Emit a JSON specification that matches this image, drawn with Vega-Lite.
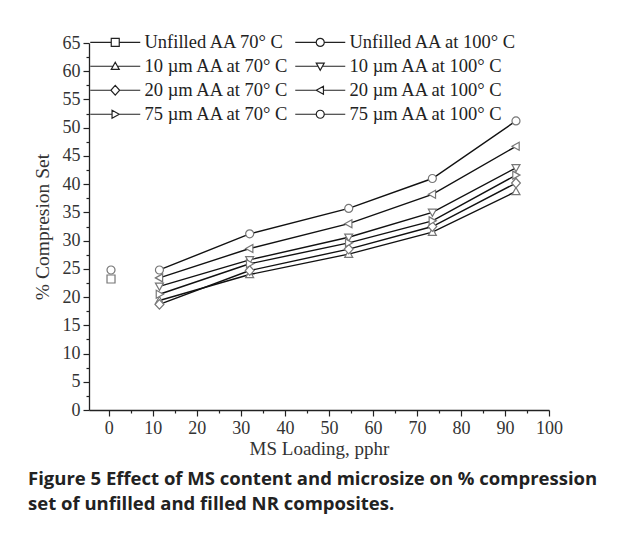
{
  "$schema": "https://vega.github.io/schema/vega-lite/v6.json",
  "width": 460,
  "height": 367,
  "autosize": "none",
  "padding": {"left": 89, "top": 43, "right": 80, "bottom": 146},
  "background": "white",
  "config": {
    "view": {"stroke": null},
    "font": "Liberation Serif"
  },
  "data": {
    "values": [
      {"x": 0.5, "y": 23.2, "s": "Unfilled AA 70° C"},
      {"x": 0.5, "y": 24.8, "s": "Unfilled AA at 100° C"},
      {"x": 11.5, "y": 19.4, "s": "10 µm AA at 70° C"},
      {"x": 32, "y": 24.0, "s": "10 µm AA at 70° C"},
      {"x": 54.5, "y": 27.6, "s": "10 µm AA at 70° C"},
      {"x": 73.5, "y": 31.5, "s": "10 µm AA at 70° C"},
      {"x": 92.5, "y": 38.7, "s": "10 µm AA at 70° C"},
      {"x": 11.5, "y": 21.9, "s": "10 µm AA at 100° C"},
      {"x": 32, "y": 26.6, "s": "10 µm AA at 100° C"},
      {"x": 54.5, "y": 30.6, "s": "10 µm AA at 100° C"},
      {"x": 73.5, "y": 35.0, "s": "10 µm AA at 100° C"},
      {"x": 92.5, "y": 42.9, "s": "10 µm AA at 100° C"},
      {"x": 11.5, "y": 18.7, "s": "20 µm AA at 70° C"},
      {"x": 32, "y": 24.7, "s": "20 µm AA at 70° C"},
      {"x": 54.5, "y": 28.5, "s": "20 µm AA at 70° C"},
      {"x": 73.5, "y": 32.5, "s": "20 µm AA at 70° C"},
      {"x": 92.5, "y": 40.2, "s": "20 µm AA at 70° C"},
      {"x": 11.5, "y": 23.4, "s": "20 µm AA at 100° C"},
      {"x": 32, "y": 28.6, "s": "20 µm AA at 100° C"},
      {"x": 54.5, "y": 33.0, "s": "20 µm AA at 100° C"},
      {"x": 73.5, "y": 38.2, "s": "20 µm AA at 100° C"},
      {"x": 92.5, "y": 46.7, "s": "20 µm AA at 100° C"},
      {"x": 11.5, "y": 20.5, "s": "75 µm AA at 70° C"},
      {"x": 32, "y": 25.9, "s": "75 µm AA at 70° C"},
      {"x": 54.5, "y": 29.6, "s": "75 µm AA at 70° C"},
      {"x": 73.5, "y": 33.5, "s": "75 µm AA at 70° C"},
      {"x": 92.5, "y": 41.6, "s": "75 µm AA at 70° C"},
      {"x": 11.5, "y": 24.8, "s": "75 µm AA at 100° C"},
      {"x": 32, "y": 31.2, "s": "75 µm AA at 100° C"},
      {"x": 54.5, "y": 35.7, "s": "75 µm AA at 100° C"},
      {"x": 73.5, "y": 41.0, "s": "75 µm AA at 100° C"},
      {"x": 92.5, "y": 51.2, "s": "75 µm AA at 100° C"}
    ]
  },
  "encoding": {
    "x": {
      "field": "x",
      "type": "quantitative",
      "scale": {"domain": [-4.5, 100], "nice": false, "zero": false},
      "axis": {
        "title": "MS Loading, pphr",
        "values": [0, 5, 10, 15, 20, 25, 30, 35, 40, 45, 50, 55, 60, 65, 70, 75, 80, 85, 90, 95, 100],
        "labelExpr": "datum.value % 10 === 0 ? datum.label : ''",
        "tickSize": {"condition": {"test": "datum.value % 10 === 0", "value": 6}, "value": 3},
        "labelFlush": false,
        "labelOverlap": false,
        "grid": false,
        "domainColor": "#222",
        "domainWidth": 1.3,
        "tickColor": "#222",
        "tickWidth": 1.2,
        "labelFont": "Liberation Serif",
        "labelFontSize": 18,
        "labelColor": "#333",
        "labelPadding": 3,
        "titleFont": "Liberation Serif",
        "titleFontSize": 19,
        "titleFontWeight": "normal",
        "titleColor": "#333",
        "titlePadding": 2
      }
    },
    "y": {
      "field": "y",
      "type": "quantitative",
      "scale": {"domain": [0, 65], "nice": false},
      "axis": {
        "title": "% Compresion Set",
        "values": [0, 2.5, 5, 7.5, 10, 12.5, 15, 17.5, 20, 22.5, 25, 27.5, 30, 32.5, 35, 37.5, 40, 42.5, 45, 47.5, 50, 52.5, 55, 57.5, 60, 62.5, 65],
        "labelExpr": "datum.value % 5 === 0 ? datum.label : ''",
        "tickSize": {"condition": {"test": "datum.value % 5 === 0", "value": 6}, "value": 3},
        "labelFlush": false,
        "labelOverlap": false,
        "grid": false,
        "domainColor": "#222",
        "domainWidth": 1.3,
        "tickColor": "#222",
        "tickWidth": 1.2,
        "labelFont": "Liberation Serif",
        "labelFontSize": 18,
        "labelColor": "#333",
        "labelPadding": 3,
        "titleFont": "Liberation Serif",
        "titleFontSize": 19.5,
        "titleFontWeight": "normal",
        "titleColor": "#333",
        "titlePadding": 10
      }
    }
  },
  "layer": [
    {
      "mark": {"type": "line", "color": "#111", "strokeWidth": 1.4},
      "encoding": {"detail": {"field": "s", "type": "nominal"}}
    },
    {
      "mark": {"type": "point", "filled": true, "fill": "white", "stroke": "#777", "strokeWidth": 1.2, "size": 64, "opacity": 1},
      "encoding": {
        "shape": {
          "field": "s",
          "type": "nominal",
          "scale": {
            "domain": ["Unfilled AA 70° C", "10 µm AA at 70° C", "20 µm AA at 70° C", "75 µm AA at 70° C", "Unfilled AA at 100° C", "10 µm AA at 100° C", "20 µm AA at 100° C", "75 µm AA at 100° C"],
            "range": [
              "M-1,-1H1V1H-1Z",
              "M0,-1L1,0.8L-1,0.8Z",
              "M0,-1.2L1.1,0L0,1.2L-1.1,0Z",
              "M1,0L-0.8,-1L-0.8,1Z",
              "M1,0A1,1,0,1,1,-1,0A1,1,0,1,1,1,0Z",
              "M0,1L1,-0.8L-1,-0.8Z",
              "M-1,0L0.8,-1L0.8,1Z",
              "M1,0A1,1,0,1,1,-1,0A1,1,0,1,1,1,0Z"
            ]
          },
          "legend": null
        }
      }
    },
    {
      "mark": {"type": "point", "filled": false, "color": "#222", "strokeWidth": 1.2, "size": 64, "opacity": 0},
      "encoding": {
        "shape": {
          "field": "s",
          "type": "nominal",
          "scale": {
            "domain": ["Unfilled AA 70° C", "10 µm AA at 70° C", "20 µm AA at 70° C", "75 µm AA at 70° C", "Unfilled AA at 100° C", "10 µm AA at 100° C", "20 µm AA at 100° C", "75 µm AA at 100° C"],
            "range": [
              "M-6.25,0H-1M1,0H6.25M-1,-1H1V1H-1Z",
              "M-6.25,0H-0.55M0.55,0H6.25M0,-1L1,0.8L-1,0.8Z",
              "M-6.25,0H-1.1M1.1,0H6.25M0,-1.2L1.1,0L0,1.2L-1.1,0Z",
              "M-6.25,0H-0.8M1,0H6.25M1,0L-0.8,-1L-0.8,1Z",
              "M-6.25,0H-1M1,0H6.25M1,0A1,1,0,1,1,-1,0A1,1,0,1,1,1,0Z",
              "M-6.25,0H-0.55M0.55,0H6.25M0,1L1,-0.8L-1,-0.8Z",
              "M-6.25,0H-1M0.8,0H6.25M-1,0L0.8,-1L0.8,1Z",
              "M-6.25,0H-1M1,0H6.25M1,0A1,1,0,1,1,-1,0A1,1,0,1,1,1,0Z"
            ]
          },
          "legend": {
            "orient": "none",
            "legendX": -4,
            "legendY": -10,
            "columns": 2,
            "title": null,
            "labelFont": "Liberation Serif",
            "labelFontSize": 18.5,
            "labelColor": "#222",
            "labelLimit": 300,
            "symbolSize": 64,
            "symbolStrokeWidth": 1.2,
            "symbolOffset": 21,
            "labelOffset": 20,
            "rowPadding": 5,
            "columnPadding": -4
          }
        }
      }
    }
  ],
  "resolve": {"scale": {"shape": "independent"}},
  "title": {
    "text": ["Figure 5 Effect of MS content and microsize on % compression", "set of unfilled and filled NR composites."],
    "orient": "bottom",
    "anchor": "start",
    "frame": "bounds",
    "font": "Open Sans",
    "fontSize": 18.5,
    "fontWeight": "bold",
    "color": "#222",
    "lineHeight": 25,
    "offset": 12,
    "dx": -4
  }
}
